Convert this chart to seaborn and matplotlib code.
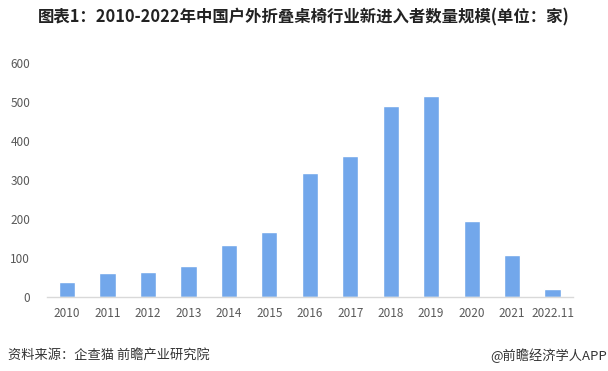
import matplotlib
matplotlib.use("Agg")
import matplotlib.pyplot as plt
import seaborn as sns
import pandas as pd

# values
years = ["2010", "2011", "2012", "2013", "2014", "2015", "2016",
         "2017", "2018", "2019", "2020", "2021", "2022.11"]
entrants = [39, 62, 65, 80, 132, 167, 319, 362, 490, 516, 196, 108, 21]
yticks = [0, 100, 200, 300, 400, 500, 600]

df = pd.DataFrame({"year": years, "count": entrants})

sns.set_style("white")
plt.rcParams["font.family"] = ["Noto Sans CJK SC", "DejaVu Sans"]

fig = plt.figure(figsize=(6.08, 3.71), dpi=100)
ax = fig.add_axes([0.077, 0.1995, 0.865, 0.631])

sns.barplot(data=df, x="year", y="count", color="#72A7EB", width=0.4,
            saturation=1, ax=ax)

ax.set_ylim(0, 600)
ax.set_yticks(yticks)
ax.set_xlim(-0.5, len(years) - 0.5)
ax.set_xlabel("")
ax.set_ylabel("")
ax.tick_params(axis="both", length=0, labelsize=8.5, colors="#595959")
ax.tick_params(axis="y", pad=12)
ax.tick_params(axis="x", pad=7)
for s in ["top", "right", "left"]:
    ax.spines[s].set_visible(False)
ax.spines["bottom"].set_color("#D9D9D9")
ax.spines["bottom"].set_linewidth(1)

fig.text(0.5, 0.952, "图表1：2010-2022年中国户外折叠桌椅行业新进入者数量规模(单位：家)",
         ha="center", va="center", fontsize=11.8, fontweight="bold",
         color="#222222")
fig.text(0.013, 0.042, "资料来源：企查猫 前瞻产业研究院", ha="left", va="center",
         fontsize=9.5, color="#333333")
fig.text(0.998, 0.042, "@前瞻经济学人APP", ha="right", va="center",
         fontsize=9.5, color="#333333")

fig.savefig("out.png", dpi=100)
